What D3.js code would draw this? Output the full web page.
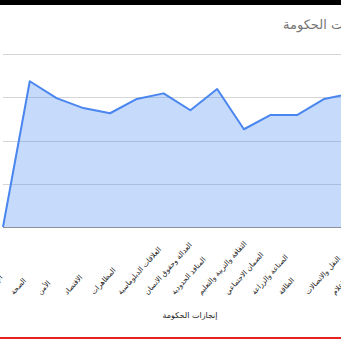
<!DOCTYPE html>
<html>
<head>
<meta charset="utf-8">
<script src="https://cdn.jsdelivr.net/npm/d3@7"></script>
<style>
    body { margin: 0; background: #fff; }
    svg { display: block; font-family: "DejaVu Sans", sans-serif; }
</style>
</head>
<body>
<div id="chart"></div>
<script>
// categories along the x axis (first and last are cropped in the picture)
const categories = ["الإسكان", "الصحة", "الأمن", "الاقتصاد", "المظاهرات", "العلاقات الدبلوماسية",
    "العدالة وحقوق الانسان", "المنافذ الحدودية", "الثقافة والتربية والتعليم", "الضمان الاجتماعي",
    "الصناعة والزراعة", "الطاقة", "النقل والاتصالات", "الإعلام"]
const values = [0, 3.37, 2.98, 2.75, 2.63, 2.96, 3.09, 2.70, 3.19, 2.26, 2.59, 2.59, 2.96, 3.09]
const yTicks = [0, 1, 2, 3, 4]
const title = "إنجازات الحكومة"
const axisTitle = "إنجازات الحكومة"

const conf = {
    width: 341,
    height: 341,
    left: 3,
    right: 351,
    top: 54,
    bottom: 227
}

let svg = d3.select("#chart").append("svg")
    .attr("width", conf.width)
    .attr("height", conf.height)

svg.append("rect").attr("width", conf.width).attr("height", conf.height).attr("fill", "#fff")

let x = d3.scalePoint().domain(categories).range([conf.left, conf.right])
let y = d3.scaleLinear().domain([0, 4]).range([conf.bottom, conf.top])

// gridlines
svg.append("g").attr("class", "grid")
    .selectAll("line")
    .data(yTicks.filter(d => d > 0))
    .join("line")
    .attr("x1", conf.left)
    .attr("x2", conf.width)
    .attr("y1", d => Math.round(y(d)) + 0.5)
    .attr("y2", d => Math.round(y(d)) + 0.5)
    .attr("stroke", "#d6d6d6")

let pts = categories.map((c, i) => ({cat: c, v: values[i]}))

let area = d3.area()
    .x(d => x(d.cat))
    .y0(y(0))
    .y1(d => y(d.v))
let line = d3.line()
    .x(d => x(d.cat))
    .y(d => y(d.v))

svg.append("path")
    .datum(pts)
    .attr("d", area)
    .attr("fill", "#4285f4")
    .attr("fill-opacity", 0.3)

// baseline
svg.append("line")
    .attr("x1", conf.left).attr("x2", conf.width)
    .attr("y1", y(0) + 0.5).attr("y2", y(0) + 0.5)
    .attr("stroke", "#8d9099")

svg.append("path")
    .datum(pts)
    .attr("d", line)
    .attr("fill", "none")
    .attr("stroke", "#4a86f0")
    .attr("stroke-width", 2)
    .attr("stroke-linejoin", "round")

// slanted category labels
svg.append("g").attr("class", "labels")
    .selectAll("text")
    .data(categories)
    .join("text")
    .attr("transform", d => "translate(" + (x(d) - 16) + "," + 295 + ") rotate(-48)")
    .attr("text-anchor", "start")
    .attr("font-size", 7.2)
    .attr("fill", "#222")
    .text(d => d)

svg.append("text")
    .attr("x", 190)
    .attr("y", 318)
    .attr("text-anchor", "middle")
    .attr("font-size", 8)
    .attr("fill", "#222")
    .text(axisTitle)

svg.append("text")
    .attr("x", 283)
    .attr("y", 29)
    .attr("text-anchor", "start")
    .attr("font-size", 13)
    .attr("fill", "#757575")
    .text(title)

// screenshot frame bits
svg.append("rect").attr("x", 0).attr("y", 0).attr("width", conf.width).attr("height", 5).attr("fill", "#000")
svg.append("rect").attr("x", 0).attr("y", 337).attr("width", conf.width).attr("height", 2).attr("fill", "#e52020")
</script>
</body>
</html>
